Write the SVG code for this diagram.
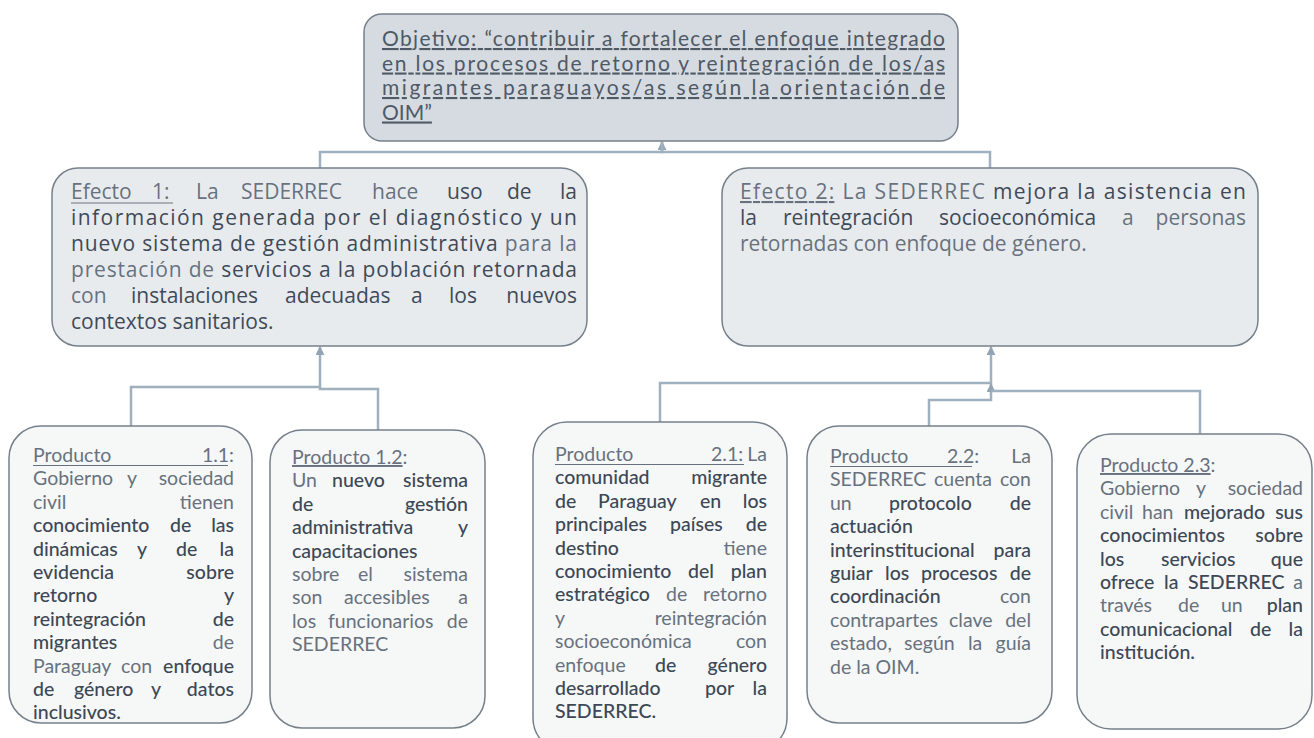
<svg xmlns="http://www.w3.org/2000/svg" width="1314" height="738" viewBox="0 0 1314 738">
<defs>
<marker id="ah" viewBox="0 0 10 10" refX="9" refY="5" markerWidth="3.6" markerHeight="3.6" orient="auto" markerUnits="strokeWidth">
<path d="M0,0 L10,5 L0,10 z" fill="#93a5b5"/>
</marker>
</defs>
<style>
text{font-family:Lato,"Noto Sans","Liberation Sans",sans-serif;}
.box{stroke:#76808b;stroke-width:1.5;}
.obj{fill:#d6dbe1;}
.ef{fill:#e8ebee;}
.pr{fill:#f6f7f7;}
.big{font-size:21px;font-family:"Open Sans","Noto Sans",sans-serif;}
.tp{font-size:21px;fill:#4f5a66;text-decoration:underline;}
.sm{font-size:19.5px;}
.l{fill:#68727e;}
.d{fill:#3d4856;font-weight:500;}
.m{fill:#3f4a58;font-weight:500;}
.e{text-anchor:end;}
.ul{stroke:#68727e;stroke-width:1;}
.cn{fill:none;stroke:#9fb0bf;stroke-width:2.5;}
</style>
<rect width="1314" height="738" fill="#ffffff"/>

<g id="connectors">
<path class="cn" d="M320,168 V152 H662 V142" marker-end="url(#ah)"/>
<path class="cn" d="M990,168 V152 H662 V142"/>
<path class="cn" d="M131,426 V387 H320 V347" marker-end="url(#ah)"/>
<path class="cn" d="M378,430 V389 H320 V387"/>
<path class="cn" d="M660,422 V383 H991 V347" marker-end="url(#ah)"/>
<path class="cn" d="M929,426 V400 H991 V384" marker-end="url(#ah)"/>
<path class="cn" d="M1200,434 V391 H991"/>
</g>

<g id="objetivo">
<rect class="box obj" x="364" y="14" width="594" height="127" rx="18"/>
<text class="tp" x="382" y="46" textLength="563" lengthAdjust="spacing">Objetivo: “contribuir a fortalecer el enfoque integrado</text>
<text class="tp" x="382" y="70.5" textLength="563" lengthAdjust="spacing">en los procesos de retorno y reintegración de los/as</text>
<text class="tp" x="382" y="95" textLength="563" lengthAdjust="spacing">migrantes paraguayos/as según la orientación de</text>
<text class="tp" x="382" y="119.5">OIM”</text>
</g>

<g id="efecto1">
<rect class="box ef" x="52" y="168" width="535" height="178" rx="26"/>
<text class="big" y="199"><tspan class="l" x="71">Efecto</tspan><tspan class="l" x="152">1:</tspan><tspan class="l" x="196">La</tspan><tspan class="l" x="241">SEDERREC</tspan><tspan class="l" x="372">hace</tspan><tspan class="m" x="447">uso</tspan><tspan class="m" x="507">de</tspan><tspan class="m e" x="577">la</tspan></text>
<line class="ul" x1="71" y1="203" x2="173" y2="203"/>
<text class="big m" x="71" y="225" textLength="506" lengthAdjust="spacing">información generada por el diagnóstico y un</text>
<text class="big" x="71" y="251" textLength="506" lengthAdjust="spacing"><tspan class="m">nuevo sistema de gestión administrativa</tspan><tspan class="l"> para la</tspan></text>
<text class="big" x="71" y="277" textLength="506" lengthAdjust="spacing"><tspan class="l">prestación de </tspan><tspan class="m">servicios a la población retornada</tspan></text>
<text class="big" y="303"><tspan class="l" x="71">con</tspan><tspan class="m" x="131">instalaciones</tspan><tspan class="m" x="285">adecuadas</tspan><tspan class="m" x="411">a</tspan><tspan class="m" x="449">los</tspan><tspan class="m e" x="577">nuevos</tspan></text>
<text class="big m" x="71" y="329">contextos sanitarios.</text>
</g>

<g id="efecto2">
<rect class="box ef" x="722" y="168" width="536" height="178" rx="26"/>
<text class="big" x="740" y="199" textLength="506" lengthAdjust="spacing"><tspan class="l" text-decoration="underline">Efecto 2:</tspan><tspan class="l"> La SEDERREC </tspan><tspan class="m">mejora la asistencia en</tspan></text>
<text class="big" y="225"><tspan class="m" x="740">la</tspan><tspan class="m" x="783">reintegración</tspan><tspan class="m" x="939">socioeconómica</tspan><tspan class="l" x="1122">a</tspan><tspan class="l e" x="1246">personas</tspan></text>
<text class="big l" x="740" y="251">retornadas con enfoque de género.</text>
</g>

<g id="producto11">
<rect class="box pr" x="9" y="426" width="243" height="297" rx="32"/>
<text class="sm l" y="462"><tspan x="33">Producto</tspan><tspan class="e" x="234">1.1:</tspan></text>
<line class="ul" x1="33" y1="465.5" x2="228" y2="465.5"/>
<text class="sm l" y="485.4"><tspan x="33">Gobierno</tspan><tspan x="127">y</tspan><tspan class="e" x="234">sociedad</tspan></text>
<text class="sm l" y="508.8"><tspan x="33">civil</tspan><tspan class="e" x="234">tienen</tspan></text>
<text class="sm d" y="532.2"><tspan x="33">conocimiento</tspan><tspan x="170">de</tspan><tspan class="e" x="234">las</tspan></text>
<text class="sm d" y="555.6"><tspan x="33">dinámicas</tspan><tspan x="137">y</tspan><tspan x="176">de</tspan><tspan class="e" x="234">la</tspan></text>
<text class="sm d" y="579"><tspan x="33">evidencia</tspan><tspan class="e" x="234">sobre</tspan></text>
<text class="sm d" y="602.4"><tspan x="33">retorno</tspan><tspan class="e" x="234">y</tspan></text>
<text class="sm d" y="625.8"><tspan x="33">reintegración</tspan><tspan class="e" x="234">de</tspan></text>
<text class="sm" y="649.2"><tspan class="d" x="33">migrantes</tspan><tspan class="l e" x="234">de</tspan></text>
<text class="sm" y="672.6"><tspan class="l" x="33">Paraguay</tspan><tspan class="l" x="121">con</tspan><tspan class="d e" x="234">enfoque</tspan></text>
<text class="sm d" y="696"><tspan x="33">de</tspan><tspan x="74">género</tspan><tspan x="151">y</tspan><tspan class="e" x="234">datos</tspan></text>
<text class="sm d" x="33" y="719.4">inclusivos.</text>
</g>

<g id="producto12">
<rect class="box pr" x="270" y="430" width="215" height="298" rx="32"/>
<text class="sm l" x="292" y="464"><tspan text-decoration="underline">Producto 1.2</tspan>:</text>
<text class="sm" y="487.4"><tspan class="l" x="292">Un</tspan><tspan class="d" x="332">nuevo</tspan><tspan class="d e" x="468">sistema</tspan></text>
<text class="sm d" y="510.8"><tspan x="292">de</tspan><tspan class="e" x="468">gestión</tspan></text>
<text class="sm d" y="534.2"><tspan x="292">administrativa</tspan><tspan class="e" x="468">y</tspan></text>
<text class="sm d" x="292" y="557.6">capacitaciones</text>
<text class="sm l" y="581"><tspan x="292">sobre</tspan><tspan x="358">el</tspan><tspan class="e" x="468">sistema</tspan></text>
<text class="sm l" y="604.4"><tspan x="292">son</tspan><tspan x="344">accesibles</tspan><tspan class="e" x="468">a</tspan></text>
<text class="sm l" y="627.8"><tspan x="292">los</tspan><tspan x="328">funcionarios</tspan><tspan class="e" x="468">de</tspan></text>
<text class="sm l" x="292" y="651.2">SEDERREC</text>
</g>

<g id="producto21">
<rect class="box pr" x="533" y="422" width="254" height="330" rx="34"/>
<text class="sm l" y="461"><tspan x="555">Producto</tspan><tspan x="711">2.1:</tspan><tspan class="e" x="767">La</tspan></text>
<line class="ul" x1="555" y1="464.5" x2="744" y2="464.5"/>
<text class="sm d" y="484.4"><tspan x="555">comunidad</tspan><tspan class="e" x="767">migrante</tspan></text>
<text class="sm d" y="507.8"><tspan x="555">de</tspan><tspan x="598">Paraguay</tspan><tspan x="700">en</tspan><tspan class="e" x="767">los</tspan></text>
<text class="sm d" y="531.2"><tspan x="555">principales</tspan><tspan x="670">países</tspan><tspan class="e" x="767">de</tspan></text>
<text class="sm" y="554.6"><tspan class="d" x="555">destino</tspan><tspan class="l e" x="767">tiene</tspan></text>
<text class="sm d" y="578"><tspan x="555">conocimiento</tspan><tspan x="688">del</tspan><tspan class="e" x="767">plan</tspan></text>
<text class="sm" y="601.4"><tspan class="d" x="555">estratégico</tspan><tspan class="l" x="666">de</tspan><tspan class="l e" x="767">retorno</tspan></text>
<text class="sm l" y="624.8"><tspan x="555">y</tspan><tspan class="e" x="767">reintegración</tspan></text>
<text class="sm l" y="648.2"><tspan x="555">socioeconómica</tspan><tspan class="e" x="767">con</tspan></text>
<text class="sm" y="671.6"><tspan class="l" x="555">enfoque</tspan><tspan class="d" x="655">de</tspan><tspan class="d e" x="767">género</tspan></text>
<text class="sm d" y="695"><tspan x="555">desarrollado</tspan><tspan x="705">por</tspan><tspan class="e" x="767">la</tspan></text>
<text class="sm d" x="555" y="718.4">SEDERREC.</text>
</g>

<g id="producto22">
<rect class="box pr" x="807" y="426" width="245" height="297" rx="32"/>
<text class="sm l" y="463"><tspan x="830">Producto</tspan><tspan x="947">2.2:</tspan><tspan class="e" x="1031">La</tspan></text>
<line class="ul" x1="830" y1="466.5" x2="972" y2="466.5"/>
<text class="sm l" y="486.4"><tspan x="830">SEDERREC</tspan><tspan x="934">cuenta</tspan><tspan class="e" x="1031">con</tspan></text>
<text class="sm" y="509.8"><tspan class="l" x="830">un</tspan><tspan class="d" x="889">protocolo</tspan><tspan class="d e" x="1031">de</tspan></text>
<text class="sm d" x="830" y="533.2">actuación</text>
<text class="sm d" y="556.6"><tspan x="830">interinstitucional</tspan><tspan class="e" x="1031">para</tspan></text>
<text class="sm d" y="580"><tspan x="830">guiar</tspan><tspan x="885">los</tspan><tspan x="921">procesos</tspan><tspan class="e" x="1031">de</tspan></text>
<text class="sm" y="603.4"><tspan class="d" x="830">coordinación</tspan><tspan class="l e" x="1031">con</tspan></text>
<text class="sm l" y="626.8"><tspan x="830">contrapartes</tspan><tspan x="949">clave</tspan><tspan class="e" x="1031">del</tspan></text>
<text class="sm l" y="650.2"><tspan x="830">estado,</tspan><tspan x="904">según</tspan><tspan x="968">la</tspan><tspan class="e" x="1031">guía</tspan></text>
<text class="sm l" x="830" y="673.6">de la OIM.</text>
</g>

<g id="producto23">
<rect class="box pr" x="1077" y="434" width="235" height="295" rx="34"/>
<text class="sm l" x="1100" y="472"><tspan text-decoration="underline">Producto 2.3</tspan>:</text>
<text class="sm l" y="495.4"><tspan x="1100">Gobierno</tspan><tspan x="1196">y</tspan><tspan class="e" x="1303">sociedad</tspan></text>
<text class="sm" y="518.8"><tspan class="l" x="1100">civil</tspan><tspan class="l" x="1142">han</tspan><tspan class="d" x="1184">mejorado</tspan><tspan class="d e" x="1303">sus</tspan></text>
<text class="sm d" y="542.2"><tspan x="1100">conocimientos</tspan><tspan class="e" x="1303">sobre</tspan></text>
<text class="sm d" y="565.6"><tspan x="1100">los</tspan><tspan x="1161">servicios</tspan><tspan class="e" x="1303">que</tspan></text>
<text class="sm" y="589"><tspan class="d" x="1100">ofrece</tspan><tspan class="d" x="1164">la</tspan><tspan class="d" x="1188">SEDERREC</tspan><tspan class="l e" x="1303">a</tspan></text>
<text class="sm" y="612.4"><tspan class="l" x="1100">través</tspan><tspan class="l" x="1178">de</tspan><tspan class="l" x="1221">un</tspan><tspan class="d e" x="1303">plan</tspan></text>
<text class="sm d" y="635.8"><tspan x="1100">comunicacional</tspan><tspan x="1250">de</tspan><tspan class="e" x="1303">la</tspan></text>
<text class="sm d" x="1100" y="659.2">institución.</text>
</g>
</svg>
